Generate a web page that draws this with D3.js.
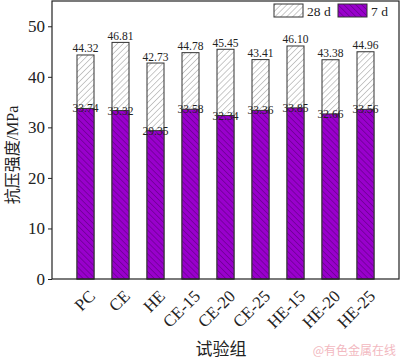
<!DOCTYPE html>
<html><head><meta charset="utf-8">
<script src="https://cdn.jsdelivr.net/npm/d3@7"></script>
<style>body{margin:0;background:#fff;} svg{display:block;}</style>
</head><body>
<script>
const categories = ["PC","CE","HE","CE-15","CE-20","CE-25","HE-15","HE-20","HE-25"];
const d7 = [33.74,33.32,29.35,33.58,32.34,33.36,33.85,32.66,33.56];
const d28 = [44.32,46.81,42.73,44.78,45.45,43.41,46.10,43.38,44.96];
const yTicks = [0,10,20,30,40,50];
const seriesNames = ["28 d","7 d"];

(function(){
const W=400,H=359;
const mL=52, mR=399, mT=1, mB=279;
const svg=d3.select("body").append("svg").attr("width",W).attr("height",H);
const serif="'Liberation Serif','Times New Roman',serif";
const defs=svg.append("defs");
const ps=4.2;
const p1=defs.append("pattern").attr("id","h28").attr("patternUnits","userSpaceOnUse").attr("width",ps).attr("height",ps).attr("patternTransform","rotate(45)");
p1.append("rect").attr("width",ps).attr("height",ps).attr("fill","#fff");
p1.append("line").attr("x1",0).attr("y1",0).attr("x2",0).attr("y2",ps).attr("stroke","#666").attr("stroke-width",0.7);
const p2=defs.append("pattern").attr("id","h7").attr("patternUnits","userSpaceOnUse").attr("width",ps).attr("height",ps).attr("patternTransform","rotate(-45)");
p2.append("rect").attr("width",ps).attr("height",ps).attr("fill","#9900CC");
p2.append("line").attr("x1",0).attr("y1",0).attr("x2",0).attr("y2",ps).attr("stroke","#3a0050").attr("stroke-width",0.7);

const y=d3.scaleLinear().domain([0,55]).range([mB,mT]);
const x=d3.scalePoint().domain(categories).range([85.5,365.5]);
const bw=17;

const g=svg.append("g");
g.selectAll(".b28").data(categories).join("rect")
 .attr("x",c=>x(c)-bw/2).attr("width",bw)
 .attr("y",(c,i)=>y(d28[i])).attr("height",(c,i)=>y(0)-y(d28[i]))
 .attr("fill","url(#h28)").attr("stroke","#333").attr("stroke-width",1);
g.selectAll(".b7").data(categories).join("rect")
 .attr("x",c=>x(c)-bw/2).attr("width",bw)
 .attr("y",(c,i)=>y(d7[i])).attr("height",(c,i)=>y(0)-y(d7[i]))
 .attr("fill","url(#h7)").attr("stroke","#333").attr("stroke-width",1);

g.selectAll(".l28").data(categories).join("text")
 .attr("x",c=>x(c)).attr("y",(c,i)=>y(d28[i])-2.5).attr("text-anchor","middle")
 .attr("font-family",serif).attr("font-size",11.5).attr("fill","#222").text((c,i)=>d28[i].toFixed(2));
g.selectAll(".l7").data(categories).join("text")
 .attr("x",c=>x(c)).attr("y",(c,i)=>y(d7[i])+4).attr("text-anchor","middle")
 .attr("font-family",serif).attr("font-size",11.5).attr("fill","#222").text((c,i)=>d7[i].toFixed(2));

svg.append("rect").attr("x",mL).attr("y",mT).attr("width",mR-mL).attr("height",mB-mT)
 .attr("fill","none").attr("stroke","#222").attr("stroke-width",1.2);

const ya=svg.append("g").attr("transform",`translate(${mL},0)`)
 .call(d3.axisLeft(y).tickValues(yTicks).tickSize(4).tickPadding(3));
ya.select(".domain").remove();
ya.selectAll("text").attr("font-family",serif).attr("font-size",17).attr("fill","#222");
ya.selectAll("line").attr("stroke","#222");

const xa=svg.append("g").attr("transform",`translate(0,${mB})`)
 .call(d3.axisBottom(x).tickSize(0).tickPadding(0));
xa.select(".domain").remove();
xa.selectAll("text").attr("font-family",serif).attr("font-size",17).attr("fill","#222")
 .attr("text-anchor","end").attr("dy","0.35em")
 .attr("transform","translate(6,14) rotate(-45)");

svg.append("text").attr("transform","translate(18,155) rotate(-90)").attr("text-anchor","middle")
 .attr("font-family",serif+",'Noto Sans CJK SC'").attr("font-size",16).attr("fill","#222").text("抗压强度/MPa");
svg.append("text").attr("x",221).attr("y",355).attr("text-anchor","middle")
 .attr("font-family",serif+",'Noto Sans CJK SC'").attr("font-size",17).attr("fill","#222").text("试验组");
svg.append("text").attr("x",396).attr("y",355).attr("text-anchor","end")
 .attr("font-family","'Noto Sans CJK SC'").attr("font-size",12).attr("fill","#f2b8c0").text("@有色金属在线");

const leg=svg.append("g");
const lx=[274,338];
const fills=["url(#h28)","url(#h7)"];
seriesNames.forEach((n,i)=>{
  leg.append("rect").attr("x",lx[i]).attr("y",4).attr("width",29).attr("height",13)
   .attr("fill",fills[i]).attr("stroke","#333").attr("stroke-width",1);
  leg.append("text").attr("x",lx[i]+33).attr("y",15.5).attr("font-family",serif).attr("font-size",13.5).attr("fill","#222").text(n);
});
})();
</script>
</body></html>
